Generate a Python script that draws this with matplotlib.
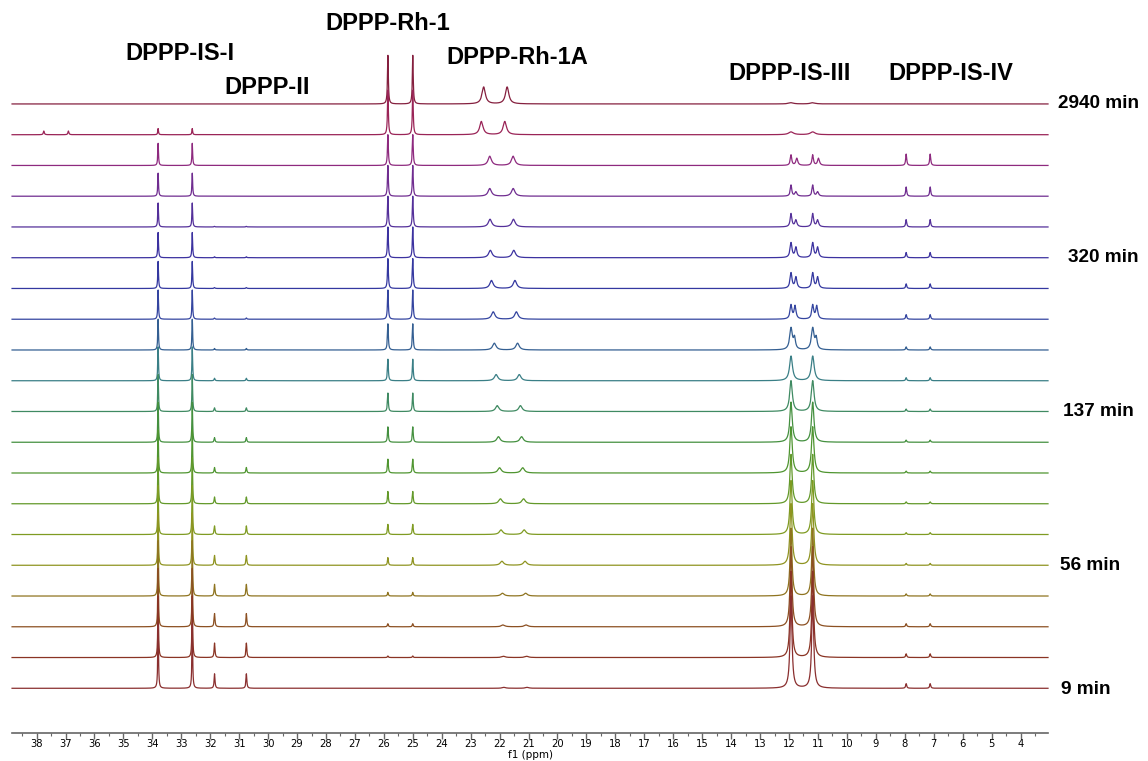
import numpy as np
import matplotlib
matplotlib.use("Agg")
import matplotlib.pyplot as plt

# rows listed top (2940 min) -> bottom (9 min)
n_rows = 20
time_rows = [0, 5, 10, 15, 19]
time_labels = ["2940 min", "320 min", "137 min", "56 min", "9 min"]

# DPPP-IS-I doublet
is1_pos = [33.80, 32.62]
is1_h = [0.0, 0.20, 0.72, 0.75, 0.78, 0.82, 0.88, 0.95, 1.0, 1.1,
         1.2, 1.3, 1.4, 1.5, 1.6, 1.7, 1.8, 1.9, 2.0, 2.1]

# DPPP-II doublet
ii_pos = [31.85, 30.75]
ii_h = [0.0, 0.0, 0.0, 0.0, 0.02, 0.03, 0.03, 0.04, 0.05, 0.08,
        0.12, 0.15, 0.18, 0.22, 0.28, 0.32, 0.38, 0.43, 0.47, 0.47]

# DPPP-Rh-1 doublet
rh1_pos = [25.86, 25.00]
rh1_h = [1.58, 1.45, 1.0, 1.0, 1.0, 1.0, 0.97, 0.95, 0.85, 0.70,
         0.60, 0.50, 0.45, 0.40, 0.33, 0.25, 0.12, 0.10, 0.05, 0.0]

# DPPP-Rh-1A doublet (drifts with time)
rh1a_left = [22.55, 22.63, 22.34, 22.34, 22.33, 22.32, 22.28, 22.22, 22.18, 22.12,
             22.08, 22.04, 22.00, 21.97, 21.95, 21.92, 21.90, 21.88, 21.86, 21.85]
rh1a_right = [21.74, 21.82, 21.53, 21.53, 21.52, 21.51, 21.47, 21.42, 21.38, 21.32,
              21.28, 21.24, 21.20, 21.17, 21.15, 21.12, 21.10, 21.08, 21.06, 21.05]
rh1a_h = [0.55, 0.43, 0.30, 0.25, 0.25, 0.24, 0.26, 0.24, 0.22, 0.20,
          0.19, 0.18, 0.17, 0.16, 0.15, 0.13, 0.09, 0.06, 0.04, 0.03]

# DPPP-IS-III doublet, main line + shoulder
is3_pos = [11.93, 11.18]
is3_h = [0.04, 0.09, 0.34, 0.36, 0.43, 0.48, 0.50, 0.45, 0.70, 0.80,
         1.0, 1.3, 1.5, 1.6, 1.75, 2.0, 2.2, 2.6, 2.8, 3.0]
is3_sh_h = [0.0, 0.0, 0.23, 0.14, 0.22, 0.33, 0.36, 0.42, 0.35, 0.0,
            0.0, 0.0, 0.0, 0.0, 0.0, 0.0, 0.0, 0.0, 0.0, 0.0]
is3_sh_off = [0.0, 0.0, 0.20, 0.17, 0.17, 0.17, 0.17, 0.14, 0.12, 0.0,
              0.0, 0.0, 0.0, 0.0, 0.0, 0.0, 0.0, 0.0, 0.0, 0.0]
is3_w = [0.10, 0.10, 0.03, 0.03, 0.035, 0.04, 0.04, 0.04, 0.055, 0.06,
         0.055, 0.05, 0.05, 0.045, 0.045, 0.045, 0.04, 0.04, 0.04, 0.04]

# DPPP-IS-IV doublet
is4_pos = [7.95, 7.12]
is4_h = [0.0, 0.0, 0.37, 0.30, 0.24, 0.17, 0.15, 0.15, 0.10, 0.10,
         0.08, 0.07, 0.06, 0.06, 0.06, 0.06, 0.07, 0.10, 0.12, 0.15]

# stray small lines in the 2nd spectrum
extra_pos = [37.75, 36.90]
extra_h = [0.12, 0.12]
extra_row = 1

row_colors = ["#85203f", "#9a2457", "#8e2a7f", "#702d90", "#54309a",
              "#3c32a0", "#3438a0", "#3445a0", "#345f92", "#3a7f86",
              "#3f8a62", "#44903f", "#4f9530", "#63992a", "#7f9b22",
              "#8f9421", "#8f7420", "#8c5022", "#8a3424", "#8a2f2f"]


def lorentz(x, x0, h, w):
    return h / (1.0 + ((x - x0) / w) ** 2)


x = np.arange(3.05, 38.85, 0.002)

W, H = 1148, 761
fig = plt.figure(figsize=(W / 100, H / 100), dpi=100)
ax = fig.add_axes([12 / W, 28 / H, 1036 / W, 733 / H])

for i in range(n_rows):
    y = np.zeros_like(x)
    for p in is1_pos:
        y += lorentz(x, p, is1_h[i], 0.015)
    for p in ii_pos:
        y += lorentz(x, p, ii_h[i], 0.018)
    for p in rh1_pos:
        y += lorentz(x, p, rh1_h[i], 0.018)
    y += lorentz(x, rh1a_left[i], rh1a_h[i], 0.07)
    y += lorentz(x, rh1a_right[i], rh1a_h[i], 0.07)
    for p in is3_pos:
        y += lorentz(x, p, is3_h[i], is3_w[i])
        if is3_sh_h[i] > 0:
            y += lorentz(x, p - is3_sh_off[i], is3_sh_h[i], 0.04)
    for p in is4_pos:
        y += lorentz(x, p, is4_h[i], 0.022)
    if i == extra_row:
        for p, h in zip(extra_pos, extra_h):
            y += lorentz(x, p, h, 0.02)
    base = n_rows - 1 - i
    ax.plot(x, base + y, color=row_colors[i], lw=0.9, zorder=i, clip_on=False)

ax.set_xlim(38.85, 3.05)
ax.set_ylim(-1.454, 22.38)

for s in ["left", "right", "top"]:
    ax.spines[s].set_visible(False)
ax.spines["bottom"].set_color("#666666")
ax.spines["bottom"].set_linewidth(1.2)
ax.set_yticks([])
ax.set_xticks(np.arange(4, 39, 1))
ax.set_xticks(np.arange(3.5, 38.6, 0.5), minor=True)
ax.tick_params(axis="x", which="major", direction="out", length=4, width=1,
               color="#666666", pad=0.5, labelsize=8)
ax.tick_params(axis="x", which="minor", direction="out", length=2.5, width=0.8,
               color="#666666")
tick_font = ["Liberation Sans Narrow", "DejaVu Sans"]
for lab in ax.get_xticklabels():
    lab.set_family(tick_font)
    lab.set_stretch("condensed")
ax.set_xlabel("f1 (ppm)", fontsize=7.5, family=tick_font)
ax.xaxis.set_label_coords(0.5, -17 / 733)

# compound labels (pixel centres)
names = ["DPPP-IS-I", "DPPP-II", "DPPP-Rh-1", "DPPP-Rh-1A", "DPPP-IS-III", "DPPP-IS-IV"]
name_xy = [(180, 53), (267, 87), (388, 24), (517, 58), (790, 74), (951, 74)]
for t, (px, py) in zip(names, name_xy):
    fig.text(px / W, 1 - py / H, t, ha="center", va="center", fontsize=17,
             fontweight="bold", family="Liberation Sans")

time_xy = [(1058, 104), (1068, 258), (1063, 411), (1060, 566), (1061, 690)]
for t, (px, py) in zip(time_labels, time_xy):
    fig.text(px / W, 1 - py / H, t, ha="left", va="center", fontsize=13.7,
             fontweight="bold", family="Liberation Sans")

fig.savefig("out.png", dpi=100)
